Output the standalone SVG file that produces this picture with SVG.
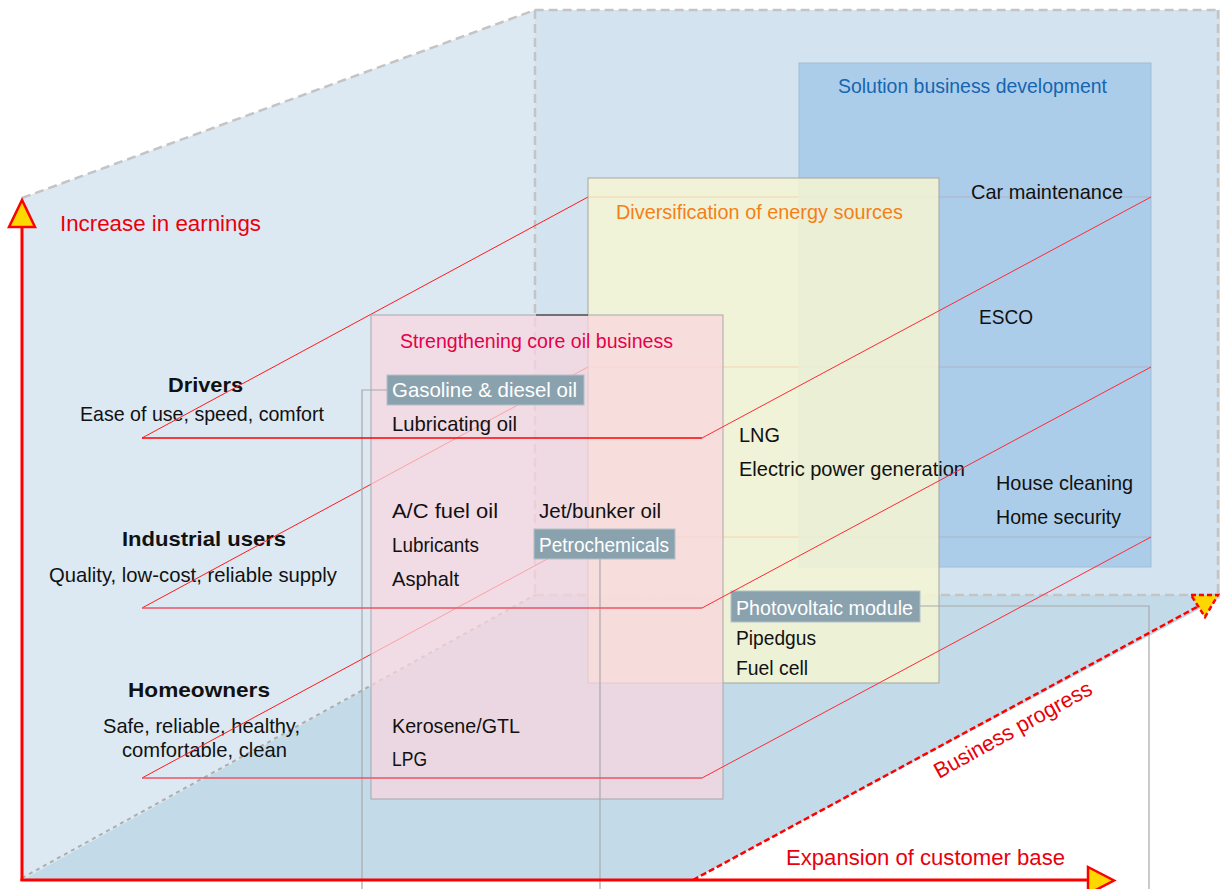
<svg xmlns="http://www.w3.org/2000/svg" width="1220" height="889" viewBox="0 0 1220 889">
  <style>
    text { font-family: 'Liberation Sans', Arial, sans-serif; font-size: 21px; fill: #111; }
    .axis { font-size: 22px; fill: #e8000b; }
    .seg { font-weight: bold; font-size: 20.5px; }
    .tag { fill: #ffffff; }
    .tagbox { fill: #8aa2ae; stroke: #b4c0c8; stroke-width: 1; }
    .guide { fill: none; stroke: #c4c4c4; stroke-width: 2.5; stroke-dasharray: 9 5; }
    .lead { fill: none; stroke: #a9a9a9; stroke-width: 1.2; }
    .back { fill: none; stroke: #ff1a1a; stroke-width: 1; }
    .front { fill: none; stroke: #ff0000; stroke-width: 1.5; }
    .front2 { fill: none; stroke: #ec5563; stroke-width: 1.5; }
    .side { fill: none; stroke: #ff2a36; stroke-width: 1; }
  </style>

  <!-- space frame: left wall, back wall, floor -->
  <g id="frame">
    <polygon points="22,198 535,10 535,595 22,880" fill="#dce9f3"/>
    <polygon points="535,10 1220,10 1220,595 535,595" fill="#d3e4f0"/>
    <polygon points="22,880 535,595 1220,595 1220,598 693,880" fill="#c3dbe8"/>
    <path class="guide" d="M22,198 L535,10 L1220,10 M1218,10 L1218,595 M535,10 L535,595 M535,595 L1220,595"/>
    <path d="M22,878 L535,595" fill="none" stroke="#adadad" stroke-width="2" stroke-dasharray="4 4"/>
  </g>

  <!-- customer segments -->
  <g id="seg-drivers">
    <text class="seg" x="168" y="392" textLength="75" lengthAdjust="spacingAndGlyphs">Drivers</text>
    <text x="80" y="421" textLength="244" lengthAdjust="spacingAndGlyphs">Ease of use, speed, comfort</text>
  </g>
  <g id="seg-industrial">
    <text class="seg" x="122" y="546" textLength="164" lengthAdjust="spacingAndGlyphs">Industrial users</text>
    <text x="49" y="582" textLength="288" lengthAdjust="spacingAndGlyphs">Quality, low-cost, reliable supply</text>
  </g>
  <g id="seg-homeowners">
    <text class="seg" x="128" y="697" textLength="142" lengthAdjust="spacingAndGlyphs">Homeowners</text>
    <text x="103" y="733" textLength="197" lengthAdjust="spacingAndGlyphs">Safe, reliable, healthy,</text>
    <text x="122" y="757" textLength="165" lengthAdjust="spacingAndGlyphs">comfortable, clean</text>
  </g>

  <!-- rear and left edges of the segment planes (behind the business boxes) -->
  <g id="plane-rear">
    <path class="back" d="M142,438 L588,197 L1151,197"/>
    <path class="back" d="M142,608 L588,367 L1151,367"/>
    <path class="back" d="M142,778 L588,537 L1151,537"/>
  </g>

  <!-- business domains -->
  <g id="box-solution">
    <rect x="799" y="63" width="352" height="504" fill="#a5c9e7" fill-opacity="0.85" stroke="#a3bdd3" stroke-width="1"/>
    <text x="838" y="93" style="fill:#1565b0" textLength="269" lengthAdjust="spacingAndGlyphs">Solution business development</text>
    <text x="971" y="199" textLength="152" lengthAdjust="spacingAndGlyphs">Car maintenance</text>
    <text x="979" y="324" textLength="54" lengthAdjust="spacingAndGlyphs">ESCO</text>
    <text x="996" y="490" textLength="137" lengthAdjust="spacingAndGlyphs">House cleaning</text>
    <text x="996" y="524" textLength="125" lengthAdjust="spacingAndGlyphs">Home security</text>
  </g>

  <g id="box-diversification">
    <rect x="588" y="178" width="351" height="505" fill="#f5f6d2" fill-opacity="0.84" stroke="#a5a5a5" stroke-width="1"/>
    <text x="616" y="219" style="fill:#f57f17" textLength="287" lengthAdjust="spacingAndGlyphs">Diversification of energy sources</text>
    <text x="739" y="442" textLength="41" lengthAdjust="spacingAndGlyphs">LNG</text>
    <text x="739" y="476" textLength="226" lengthAdjust="spacingAndGlyphs">Electric power generation</text>
    <rect class="tagbox" x="731" y="591" width="189" height="31"/>
    <text class="tag" x="736" y="615" textLength="177" lengthAdjust="spacingAndGlyphs">Photovoltaic module</text>
    <text x="736" y="645" textLength="80" lengthAdjust="spacingAndGlyphs">Pipedgus</text>
    <text x="736" y="675" textLength="72" lengthAdjust="spacingAndGlyphs">Fuel cell</text>
  </g>

  <g id="box-core-oil">
    <rect x="371" y="315" width="352" height="484" fill="#fad6de" fill-opacity="0.72" stroke="#a8a8a8" stroke-width="1"/>
    <line x1="536" y1="315" x2="588" y2="315" stroke="#555" stroke-width="1.5"/>
    <text x="400" y="348" style="fill:#e6004c" textLength="273" lengthAdjust="spacingAndGlyphs">Strengthening core oil business</text>
    <rect class="tagbox" x="387" y="375" width="197" height="30"/>
    <text class="tag" x="392" y="397" textLength="185" lengthAdjust="spacingAndGlyphs">Gasoline &amp; diesel oil</text>
    <text x="392" y="431" textLength="125" lengthAdjust="spacingAndGlyphs">Lubricating oil</text>
    <text x="392" y="518" textLength="106" lengthAdjust="spacingAndGlyphs">A/C fuel oil</text>
    <text x="539" y="518" textLength="122" lengthAdjust="spacingAndGlyphs">Jet/bunker oil</text>
    <text x="392" y="552" textLength="87" lengthAdjust="spacingAndGlyphs">Lubricants</text>
    <rect class="tagbox" x="534" y="529" width="141" height="30"/>
    <text class="tag" x="539" y="552" textLength="130" lengthAdjust="spacingAndGlyphs">Petrochemicals</text>
    <text x="392" y="586" textLength="67" lengthAdjust="spacingAndGlyphs">Asphalt</text>
    <text x="392" y="733" textLength="128" lengthAdjust="spacingAndGlyphs">Kerosene/GTL</text>
    <text x="392" y="766" textLength="35" lengthAdjust="spacingAndGlyphs">LPG</text>
  </g>

  <!-- connectors: leader lines and front/right edges of the segment planes -->
  <g id="connectors">
    <path class="lead" d="M387,390 H362 V889"/>
    <path class="lead" d="M600,559 V889"/>
    <path class="lead" d="M920,606 H1149 V889"/>
    <path class="front" d="M142,438 H702"/>
    <path class="front2" d="M142,608 H702"/>
    <path class="front2" d="M142,778 H702"/>
    <path class="side" d="M702,438 L1151,197"/>
    <path class="side" d="M702,608 L1151,367"/>
    <path class="side" d="M702,778 L1151,537"/>
  </g>

  <!-- axes -->
  <g id="axis-earnings">
    <line x1="22" y1="227" x2="22" y2="881" stroke="#ff0000" stroke-width="3"/>
    <polygon points="22,200 9,227 35,227" fill="#ffd700" stroke="#ff0000" stroke-width="2.5" stroke-linejoin="miter"/>
    <text class="axis" x="60" y="231" textLength="201" lengthAdjust="spacingAndGlyphs">Increase in earnings</text>
  </g>
  <g id="axis-customers">
    <line x1="20.5" y1="880" x2="1088" y2="880" stroke="#ff0000" stroke-width="3"/>
    <polygon points="1088,867 1114,880.5 1088,894" fill="#ffd700" stroke="#ff0000" stroke-width="2.5"/>
    <text class="axis" x="786" y="865" textLength="279" lengthAdjust="spacingAndGlyphs">Expansion of customer base</text>
  </g>
  <g id="axis-progress">
    <line x1="693" y1="880" x2="1197" y2="607" stroke="#ff0000" stroke-width="2.5" stroke-dasharray="6 3"/>
    <polygon points="1191,595 1218,595 1205,617" fill="#ffd700" stroke="#ff0000" stroke-width="2.5" stroke-dasharray="5 3"/>
    <text class="axis" x="0" y="0" transform="translate(939,779) rotate(-29)" textLength="177" lengthAdjust="spacingAndGlyphs">Business progress</text>
  </g>
</svg>
